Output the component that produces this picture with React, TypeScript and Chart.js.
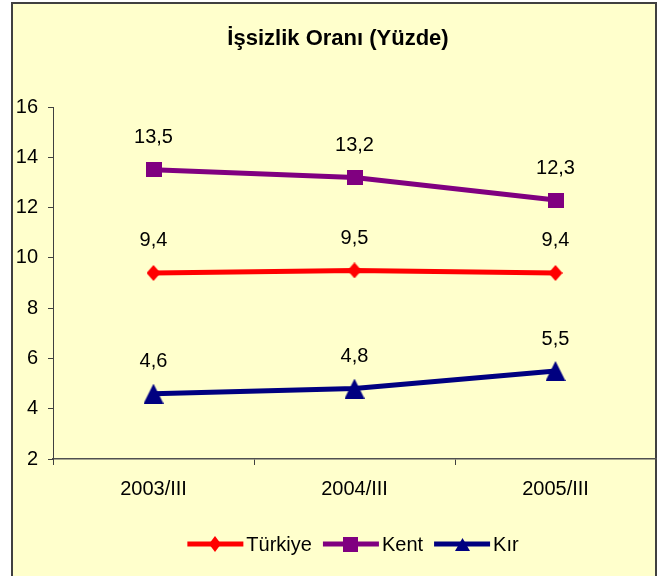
import React, { useEffect, useRef } from 'react';
import { Chart, registerables } from 'chart.js';

Chart.register(...registerables);

const TITLE = 'İşsizlik Oranı (Yüzde)';
const categories = ['2003/III', '2004/III', '2005/III'];
const seriesNames = ['Türkiye', 'Kent', 'Kır'];
const turkiye = [9.4, 9.5, 9.4];
const kent = [13.5, 13.2, 12.3];
const kir = [4.6, 4.8, 5.5];
const yMin = 2;
const yMax = 16;
const yStep = 2;

const FONT = '"Liberation Sans", Arial, sans-serif';

function makeMarker(shape: string, color: string, w: number, h: number) {
  const c = document.createElement('canvas');
  c.width = w;
  c.height = h;
  const ctx = c.getContext('2d')!;
  ctx.fillStyle = color;
  ctx.beginPath();
  if (shape === 'diamond') {
    ctx.moveTo(w / 2, 0);
    ctx.lineTo(w, h / 2);
    ctx.lineTo(w / 2, h);
    ctx.lineTo(0, h / 2);
  } else if (shape === 'square') {
    ctx.rect(0, 0, w, h);
  } else {
    ctx.moveTo(w / 2, 0);
    ctx.lineTo(w, h);
    ctx.lineTo(0, h);
  }
  ctx.closePath();
  ctx.fill();
  return c;
}

export default function App() {
  const ref = useRef<HTMLCanvasElement | null>(null);

  useEffect(() => {
    if (!ref.current) return;
    const colors = ['#FF0000', '#800080', '#000080'];
    const shapes = ['diamond', 'square', 'triangle'];
    const sizes = [
      [14, 16],
      [16, 15],
      [20, 20],
    ];
    const legendSizes = [
      [12, 16],
      [15, 15],
      [15, 13],
    ];
    const markers = shapes.map((s, i) => makeMarker(s, colors[i], sizes[i][0], sizes[i][1]));
    const legendMarkers = shapes.map((s, i) =>
      makeMarker(s, colors[i], legendSizes[i][0], legendSizes[i][1])
    );
    const values = [turkiye, kent, kir];

    const bgPlugin = {
      id: 'bg',
      beforeDraw(chart: any) {
        const ctx = chart.ctx;
        ctx.save();
        ctx.fillStyle = '#FFFFFF';
        ctx.fillRect(0, 0, chart.width, chart.height);
        ctx.fillStyle = '#FFFFCC';
        ctx.fillRect(12, 3, 644, 600);
        ctx.strokeStyle = '#404040';
        ctx.lineWidth = 2;
        ctx.strokeRect(12, 3, 644, 600);
        ctx.fillStyle = '#000';
        ctx.font = `bold 22px ${FONT}`;
        ctx.textAlign = 'center';
        ctx.textBaseline = 'middle';
        ctx.fillText(TITLE, 338, 39);
        ctx.restore();
      },
    };

    const labelPlugin = {
      id: 'labels',
      afterDatasetsDraw(chart: any) {
        const ctx = chart.ctx;
        ctx.save();
        ctx.fillStyle = '#000';
        ctx.font = `20px ${FONT}`;
        ctx.textAlign = 'center';
        ctx.textBaseline = 'middle';
        chart.data.datasets.forEach((ds: any, di: number) => {
          const meta = chart.getDatasetMeta(di);
          meta.data.forEach((pt: any, i: number) => {
            const v = ds.data[i];
            ctx.fillText(String(v).replace('.', ','), pt.x, pt.y - 32);
          });
        });
        ctx.restore();
      },
    };

    const legendPlugin = {
      id: 'customLegend',
      afterDraw(chart: any) {
        const ctx = chart.ctx;
        ctx.save();
        ctx.font = `20px ${FONT}`;
        ctx.textBaseline = 'middle';
        ctx.textAlign = 'left';
        const lineLen = 56;
        const gapText = 3;
        const gapItem = 11;
        const widths = seriesNames.map((n) => ctx.measureText(n).width);
        const total =
          widths.reduce((a: number, w: number) => a + lineLen + gapText + w, 0) +
          gapItem * (seriesNames.length - 1);
        const cx = 353;
        let x = cx - total / 2;
        const y = 544;
        seriesNames.forEach((n, i) => {
          ctx.strokeStyle = colors[i];
          ctx.lineWidth = 5;
          ctx.beginPath();
          ctx.moveTo(x, y);
          ctx.lineTo(x + lineLen, y);
          ctx.stroke();
          const m = legendMarkers[i];
          ctx.drawImage(m, Math.round(x + lineLen / 2 - m.width / 2), Math.round(y - m.height / 2));
          ctx.fillStyle = '#000';
          ctx.fillText(n, x + lineLen + gapText, y + 1);
          x += lineLen + gapText + widths[i] + gapItem;
        });
        ctx.restore();
      },
    };

    const chart = new Chart(ref.current, {
      type: 'line',
      data: {
        labels: categories,
        datasets: seriesNames.map((name, i) => ({
          label: name,
          data: values[i],
          borderColor: colors[i],
          backgroundColor: colors[i],
          borderWidth: 5,
          tension: 0,
          fill: false,
          pointStyle: markers[i] as any,
          pointRadius: 8,
          pointHoverRadius: 8,
        })),
      },
      options: {
        animation: false,
        responsive: false,
        devicePixelRatio: 1,
        layout: { autoPadding: false, padding: { top: 107, right: 6, left: 0, bottom: 0 } },
        plugins: {
          legend: { display: false },
          title: { display: false },
          tooltip: { enabled: false },
        },
        scales: {
          x: {
            type: 'category',
            offset: true,
            grid: {
              offset: true,
              drawOnChartArea: false,
              drawTicks: true,
              tickLength: 6,
              color: '#404040',
            },
            border: { display: true, color: '#505050', width: 1.5 },
            ticks: {
              color: '#000',
              font: { family: FONT, size: 20 },
              padding: 12,
              maxRotation: 0,
            },
            afterFit: (s: any) => {
              s.height = 117;
              s.paddingLeft = 0;
              s.paddingRight = 0;
            },
          },
          y: {
            min: yMin,
            max: yMax,
            ticks: {
              stepSize: yStep,
              color: '#000',
              font: { family: FONT, size: 20 },
              padding: 10,
            },
            grid: {
              drawOnChartArea: false,
              drawTicks: true,
              tickLength: 5,
              color: '#404040',
            },
            border: { display: true, color: '#404040', width: 1 },
            afterFit: (s: any) => {
              s.width = 53;
              s.paddingTop = 0;
              s.paddingBottom = 0;
            },
          },
        },
      },
      plugins: [bgPlugin, labelPlugin, legendPlugin],
    });
    return () => chart.destroy();
  }, []);

  return (
    <div style={{ position: 'absolute', left: 0, top: 0, width: 662, height: 576 }}>
      <canvas ref={ref} width={662} height={576} style={{ display: 'block' }} />
    </div>
  );
}
